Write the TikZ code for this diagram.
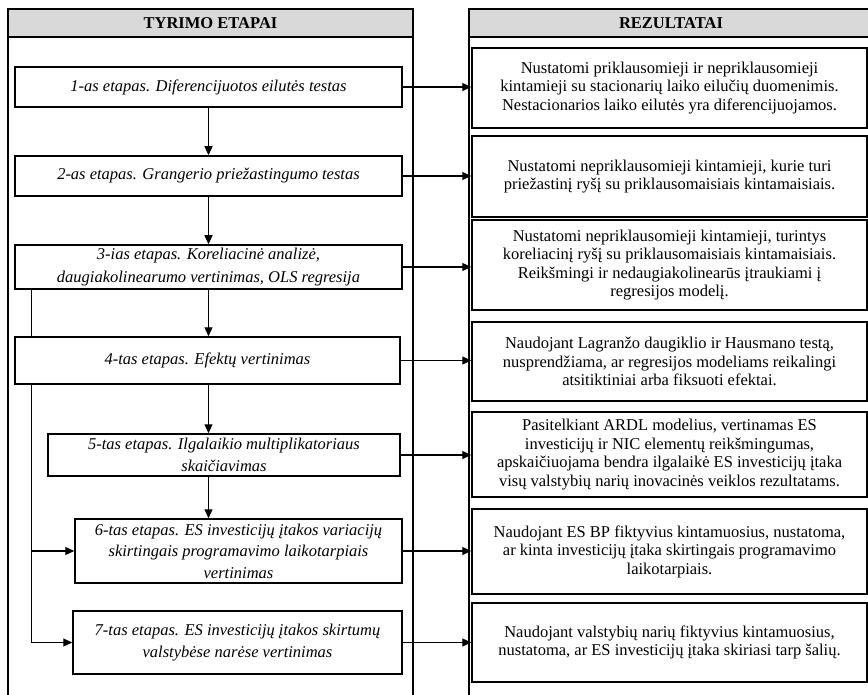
\documentclass[tikz,border=0pt]{standalone}
\usepackage{fontspec}
\setmainfont{Liberation Serif}
\usetikzlibrary{arrows.meta,backgrounds}
\definecolor{hdr}{RGB}{217,217,217}
\begin{document}
\begin{tikzpicture}[x=1pt,y=-1pt,
 stagebox/.style={draw,line width=1.5pt,fill=white,font=\fontsize{16.5}{21.5}\selectfont\itshape,align=center,inner sep=0pt},
 resbox/.style={draw,line width=1.5pt,fill=white,font=\fontsize{16.5}{18.5}\selectfont,align=center,inner sep=0pt,minimum width=395pt},
 conn/.style={line width=1.2pt,-{Triangle[length=9pt,width=8pt]}},
 panel/.style={line width=1.5pt},
 hdrtext/.style={font=\fontsize{16.5}{19}\selectfont\bfseries,inner sep=0pt}]
\useasboundingbox (0,0) rectangle (868,695);
% panels
\fill[hdr] (8,9) rectangle (413,37);
\fill[hdr] (469,9) rectangle (868,37);
\draw[panel] (8,695) -- (8,9) -- (413,9) -- (413,695);
\draw[panel] (8,37) -- (413,37);
\draw[panel] (469,695) -- (469,9) -- (868,9);
\draw[panel] (469,37) -- (868,37);
\node[hdrtext] (h1) at (210.5,23.5) {TYRIMO ETAPAI};
\node[hdrtext] (h2) at (671,23.5) {REZULTATAI};
% stages
\node[stagebox,minimum width=387pt,minimum height=40pt] (s1) at (208.5,87) {1-as etapas. Diferencijuotos eilutės testas};
\node[stagebox,minimum width=387pt,minimum height=40pt] (s2) at (208.5,176) {2-as etapas. Grangerio priežastingumo testas};
\node[stagebox,minimum width=387pt,minimum height=44pt,font=\fontsize{16.5}{23}\selectfont\itshape] (s3) at (208.5,267) {3-ias etapas. Koreliacinė analizė,\\ daugiakolinearumo vertinimas, OLS regresija};
\node[stagebox,minimum width=385pt,minimum height=47pt] (s4) at (207.5,360.5) {4-tas etapas. Efektų vertinimas};
\node[stagebox,minimum width=352pt,minimum height=42pt] (s5) at (224,455) {5-tas etapas. Ilgalaikio multiplikatoriaus\\ skaičiavimas};
\node[stagebox,minimum width=327pt,minimum height=64pt] (s6) at (238.5,551) {6-tas etapas. ES investicijų įtakos variacijų\\ skirtingais programavimo laikotarpiais\\ vertinimas};
\node[stagebox,minimum width=329pt,minimum height=63pt] (s7) at (237.5,642.5) {7-tas etapas. ES investicijų įtakos skirtumų\\ valstybėse narėse vertinimas};
% results
\node[resbox,minimum height=80pt] (r1) at (669.5,88) {Nustatomi priklausomieji ir nepriklausomieji\\ kintamieji su stacionarių laiko eilučių duomenimis.\\ Nestacionarios laiko eilutės yra diferencijuojamos.};
\node[resbox,minimum height=81pt] (r2) at (669.5,176.5) {Nustatomi nepriklausomieji kintamieji, kurie turi\\ priežastinį ryšį su priklausomaisiais kintamaisiais.};
\node[resbox,minimum height=90pt] (r3) at (669.5,265) {Nustatomi nepriklausomieji kintamieji, turintys\\ koreliacinį ryšį su priklausomaisiais kintamaisiais.\\ Reikšmingi ir nedaugiakolinearūs įtraukiami į\\ regresijos modelį.};
\node[resbox,minimum height=79pt] (r4) at (669.5,361.5) {Naudojant Lagranžo daugiklio ir Hausmano testą,\\ nusprendžiama, ar regresijos modeliams reikalingi\\ atsitiktiniai arba fiksuoti efektai.};
\node[resbox,minimum height=85pt] (r5) at (669.5,454.5) {Pasitelkiant ARDL modelius, vertinamas ES\\ investicijų ir NIC elementų reikšmingumas,\\ apskaičiuojama bendra ilgalaikė ES investicijų įtaka\\ visų valstybių narių inovacinės veiklos rezultatams.};
\node[resbox,minimum height=85pt] (r6) at (669.5,551.5) {Naudojant ES BP fiktyvius kintamuosius, nustatoma,\\ ar kinta investicijų įtaka skirtingais programavimo\\ laikotarpiais.};
\node[resbox,minimum height=79pt] (r7) at (669.5,642.5) {Naudojant valstybių narių fiktyvius kintamuosius,\\ nustatoma, ar ES investicijų įtaka skiriasi tarp šalių.};
% vertical flow
\draw[conn] (s1.south) -- (s2.north);
\draw[conn] (s2.south) -- (s3.north);
\draw[conn] (s3.south) -- (s3.south |- s4.north);
\draw[conn] (s3.south |- s4.south) -- (s3.south |- s5.north);
\draw[conn] (s3.south |- s5.south) -- (s3.south |- s6.north);
% stage -> result
\foreach \i in {1,...,7}{
  \draw[conn] (s\i.east) -- (s\i.east -| r\i.west);
}
% bypass
\coordinate (b) at ([xshift=17pt]s3.south west);
\begin{pgfonlayer}{background}
\draw[conn] (b) |- (s6.west);
\draw[conn] (b) |- (s7.west);
\end{pgfonlayer}
\end{tikzpicture}
\end{document}
